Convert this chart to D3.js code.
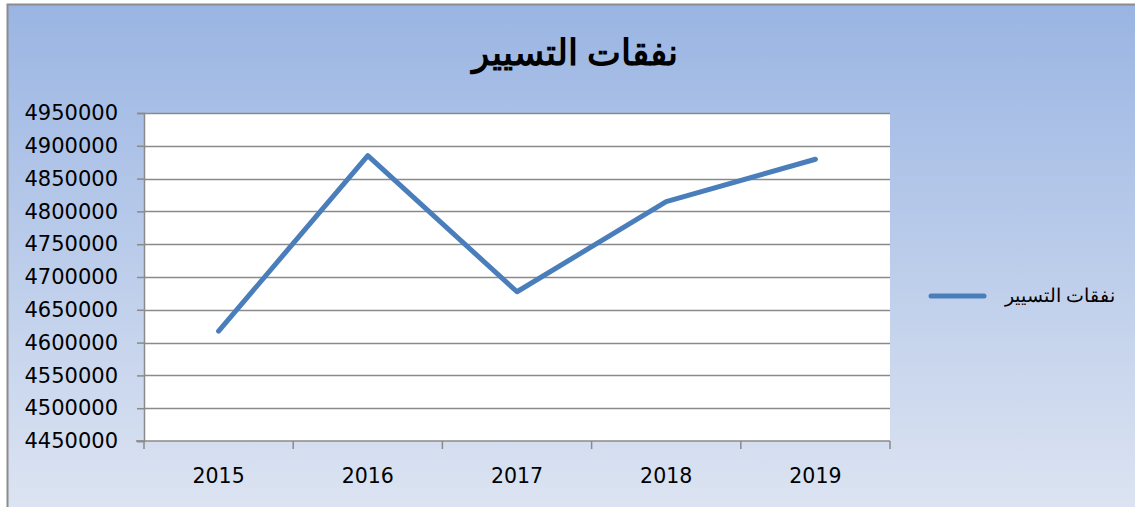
<!DOCTYPE html>
<html>
<head>
<meta charset="utf-8">
<script src="https://cdn.jsdelivr.net/npm/d3@7"></script>
<style>
  body { margin: 0; background: #ffffff; }
  svg { display: block; }
</style>
</head>
<body>
<div id="container"></div>
<script>
/* CONSTANTS AND GLOBALS */
const width = 1135;
const height = 507;

// data
const years = ["2015", "2016", "2017", "2018", "2019"];
const values = [4617500, 4885000, 4677500, 4815000, 4879500];
const yTicks = [4450000, 4500000, 4550000, 4600000, 4650000, 4700000, 4750000, 4800000, 4850000, 4900000, 4950000];
const title = "نفقات التسيير";
const seriesName = "نفقات التسيير";

const plot = { left: 144, right: 890, top: 113, bottom: 441 };

// CREATE SVG ELEMENT
var svg = d3.select("#container")
  .append("svg")
  .attr("width", width)
  .attr("height", height);

var defs = svg.append("defs");
var grad = defs.append("linearGradient")
  .attr("id", "bg")
  .attr("x1", 0).attr("y1", 0).attr("x2", 0).attr("y2", 1);
grad.append("stop").attr("offset", "0%").attr("stop-color", "#9ab5e3");
grad.append("stop").attr("offset", "100%").attr("stop-color", "#dee5f2");

// chart area background + border
svg.append("rect")
  .attr("x", 7.5).attr("y", 4.5)
  .attr("width", width + 10).attr("height", height + 10)
  .attr("fill", "url(#bg)")
  .attr("stroke", "#8c8c8c")
  .attr("stroke-width", 2);

// plot area
svg.append("rect")
  .attr("x", plot.left).attr("y", plot.top)
  .attr("width", plot.right - plot.left).attr("height", plot.bottom - plot.top)
  .attr("fill", "#ffffff");

// SCALES
var x = d3.scaleBand()
  .domain(years)
  .range([plot.left, plot.right]);

var y = d3.scaleLinear()
  .domain([yTicks[0], yTicks[yTicks.length - 1]])
  .range([plot.bottom, plot.top]);

// grid lines
svg.append("g")
  .selectAll("line")
  .data(yTicks.slice(1))
  .join("line")
  .attr("x1", plot.left).attr("x2", plot.right)
  .attr("y1", d => Math.round(y(d)) + 0.5)
  .attr("y2", d => Math.round(y(d)) + 0.5)
  .attr("stroke", "#8a8a8a")
  .attr("stroke-width", 1.5);

// BUILD AND CALL AXES
var yAxis = svg.append("g")
  .attr("transform", "translate(" + plot.left + ",0)")
  .call(d3.axisLeft(y).tickValues(yTicks).tickSize(7).tickPadding(19).tickFormat(d3.format("d")));
yAxis.select(".domain").attr("stroke", "#8a8a8a").attr("stroke-width", 1.5);
yAxis.selectAll(".tick line").attr("stroke", "#8a8a8a").attr("stroke-width", 1.5);
yAxis.selectAll(".tick text")
  .attr("fill", "#000")
  .style("font-family", "'DejaVu Sans', sans-serif")
  .style("font-size", "21px");

// x axis: line + ticks at band edges
var xAxis = svg.append("g");
xAxis.append("line")
  .attr("x1", plot.left - 8).attr("x2", plot.right)
  .attr("y1", plot.bottom).attr("y2", plot.bottom)
  .attr("stroke", "#8a8a8a").attr("stroke-width", 1.5);
var edges = years.map(d => x(d)).concat([x.range()[1]]);
xAxis.selectAll(".xt")
  .data(edges)
  .join("line")
  .attr("class", "xt")
  .attr("x1", d => d).attr("x2", d => d)
  .attr("y1", plot.bottom).attr("y2", plot.bottom + 8)
  .attr("stroke", "#8a8a8a").attr("stroke-width", 1.5);
xAxis.selectAll("text")
  .data(years)
  .join("text")
  .attr("x", d => x(d) + x.bandwidth() / 2)
  .attr("y", 483)
  .attr("text-anchor", "middle")
  .style("font-family", "'DejaVu Sans', sans-serif")
  .style("font-size", "20.5px")
  .text(d => d);

// DRAW LINE
var line = d3.line()
  .x((d, i) => x(years[i]) + x.bandwidth() / 2)
  .y(d => y(d));

svg.append("path")
  .datum(values)
  .attr("fill", "none")
  .attr("stroke", "#4a7ebb")
  .attr("stroke-width", 5)
  .attr("stroke-linecap", "round")
  .attr("stroke-linejoin", "round")
  .attr("d", line);

// title
svg.append("text")
  .attr("x", 575)
  .attr("y", 65)
  .attr("text-anchor", "middle")
  .attr("direction", "rtl")
  .style("font-family", "'Noto Sans', sans-serif")
  .style("font-weight", "bold")
  .style("font-size", "36px")
  .text(title);

// legend
svg.append("line")
  .attr("x1", 931).attr("x2", 984)
  .attr("y1", 296).attr("y2", 296)
  .attr("stroke", "#4a7ebb")
  .attr("stroke-width", 5)
  .attr("stroke-linecap", "round");
svg.append("text")
  .attr("x", 1115)
  .attr("y", 302)
  .attr("text-anchor", "start")
  .attr("direction", "rtl")
  .style("font-family", "'Noto Sans', sans-serif")
  .style("font-size", "19px")
  .text(seriesName);
</script>
</body>
</html>
